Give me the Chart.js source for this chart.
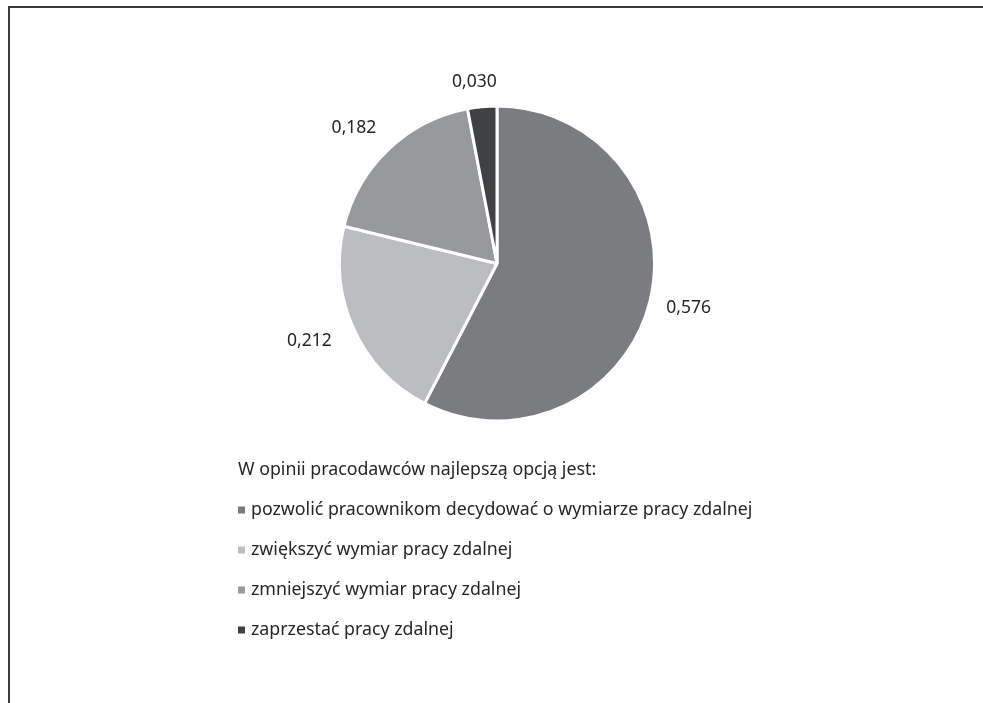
<!DOCTYPE html>
<html lang="pl">
<head>
<meta charset="utf-8">
<title>Wymiar pracy zdalnej – opinie pracodawców</title>
<script src="https://cdn.jsdelivr.net/npm/chart.js@4.4.1/dist/chart.umd.min.js"></script>
<style>
  html, body { margin: 0; padding: 0; background: #ffffff; }
  #wrap { position: relative; width: 983px; height: 703px; overflow: hidden; }
  #frame {
    position: absolute; left: 8px; top: 6px; width: 1000px; height: 720px;
    border-top: 2px solid #3c3c3c; border-left: 2px solid #3c3c3c;
    box-sizing: border-box;
  }
  canvas { position: absolute; left: 0; top: 0; }
</style>
</head>
<body>
<div id="wrap">
  <div id="frame"></div>
  <canvas id="chart" width="983" height="703"></canvas>
</div>
<script>
// Odpowiedzi pracodawców (udziały)
const legendTitle = 'W opinii pracodawców najlepszą opcją jest:';
const categories = [
  'pozwolić pracownikom decydować o wymiarze pracy zdalnej',
  'zwiększyć wymiar pracy zdalnej',
  'zmniejszyć wymiar pracy zdalnej',
  'zaprzestać pracy zdalnej'
];
const shares = [0.576, 0.212, 0.182, 0.030];
const sliceColors = ['#7b7c80', '#bcbdc0', '#98999c', '#404143'];

const FONT = '"Noto Sans", "Open Sans", sans-serif';
const fmt = v => v.toFixed(3).replace('.', ',');

// Etykiety wartości poza wycinkami
const outsideLabels = {
  id: 'outsideLabels',
  afterDatasetsDraw(chart) {
    const ctx = chart.ctx;
    const meta = chart.getDatasetMeta(0);
    const size = 17.5;
    ctx.save();
    ctx.font = size + 'px ' + FONT;
    ctx.fillStyle = '#262626';
    ctx.textAlign = 'center';
    ctx.textBaseline = 'middle';
    meta.data.forEach((arc, i) => {
      const p = arc.getProps(['x', 'y', 'startAngle', 'endAngle', 'outerRadius'], true);
      const mid = (p.startAngle + p.endAngle) / 2;
      const dx = Math.cos(mid), dy = Math.sin(mid);
      const txt = fmt(shares[i]);
      const w = ctx.measureText(txt).width;
      const ext = Math.abs(dx) * w / 2 + Math.abs(dy) * size / 2;
      const gap = 5 + 9 * Math.pow(dy, 4);
      const d = p.outerRadius + gap + ext;
      ctx.fillText(txt, p.x + dx * (d + 15) - 4, p.y + dy * d);
    });
    ctx.restore();
  }
};

// Legenda w układzie pionowym pod wykresem
const verticalLegend = {
  id: 'verticalLegend',
  afterDraw(chart) {
    const ctx = chart.ctx;
    const x0 = 238, yTitle = 470, step = 40;
    ctx.save();
    ctx.font = '17.8px ' + FONT;
    ctx.fillStyle = '#262626';
    ctx.textAlign = 'left';
    ctx.textBaseline = 'middle';
    ctx.fillText(legendTitle, x0, yTitle);
    categories.forEach((label, i) => {
      const y = yTitle + step * (i + 1);
      ctx.fillStyle = sliceColors[i];
      ctx.fillRect(x0, y - 3.5, 7, 7);
      ctx.fillStyle = '#262626';
      ctx.fillText(label, x0 + 13, y);
    });
    ctx.restore();
  }
};

new Chart(document.getElementById('chart'), {
  type: 'pie',
  data: {
    labels: categories,
    datasets: [{
      data: shares,
      backgroundColor: sliceColors,
      borderColor: '#ffffff',
      borderWidth: 3
    }]
  },
  options: {
    responsive: false,
    animation: false,
    events: [],
    layout: { padding: { left: 338, right: 327, top: 103, bottom: 279 } },
    plugins: {
      legend: { display: false },
      tooltip: { enabled: false }
    }
  },
  plugins: [outsideLabels, verticalLegend]
});
</script>
</body>
</html>
